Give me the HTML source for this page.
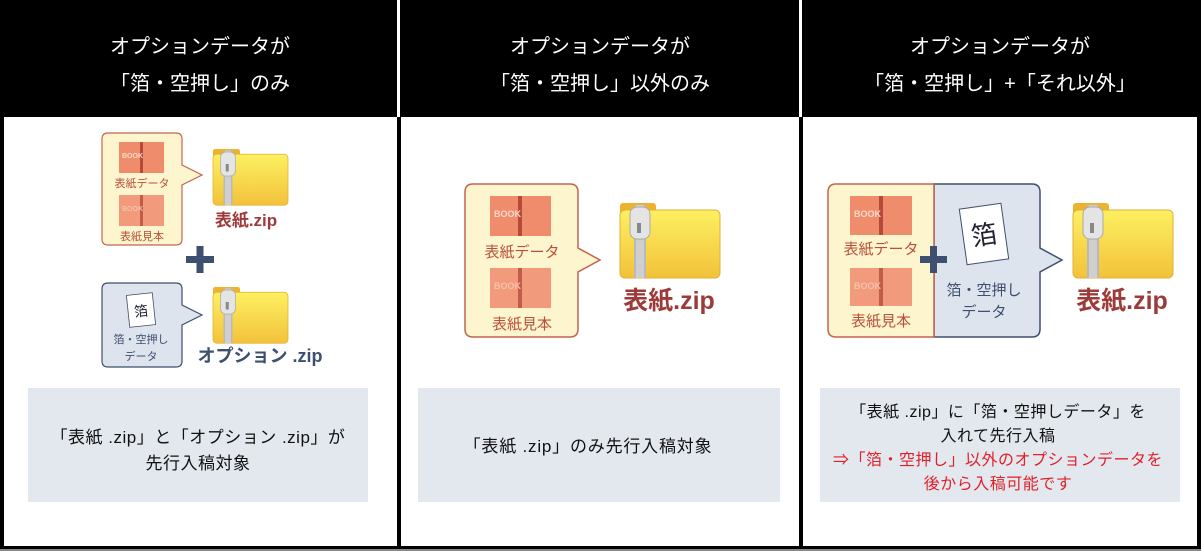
<!DOCTYPE html>
<html><head><meta charset="utf-8"><style>
html,body{margin:0;padding:0;background:#fff}
svg{display:block}
text{font-family:"Liberation Sans","Noto Sans CJK JP",sans-serif}
</style></head><body>
<svg width="1201" height="551" viewBox="0 0 1201 551" xmlns="http://www.w3.org/2000/svg">
<defs>
<linearGradient id="fy" x1="0" y1="0" x2="0" y2="1"><stop offset="0" stop-color="#fdf062"/><stop offset="1" stop-color="#f2c23a"/></linearGradient>
<g id="folder">
<rect x="0" y="0" width="36" height="12" rx="3" fill="#eeb32e"/>
<rect x="0" y="7" width="100" height="68" rx="5" fill="url(#fy)"/>
<rect x="0" y="7" width="100" height="68" rx="5" fill="none" stroke="#e3b030" stroke-width="1"/>
<rect x="14" y="2" width="12" height="73" fill="#b9b9b9"/>
<rect x="16" y="2" width="8" height="73" fill="#cfcfcf"/>
<rect x="10" y="4" width="20" height="32" rx="7" fill="#e4e4e4" stroke="#aaa" stroke-width="1"/>
<rect x="17" y="20" width="4" height="10" fill="#888"/>
</g>
</defs>

<rect x="0" y="0" width="1201" height="549" fill="#000"/>
<rect x="0" y="549" width="1201" height="2" fill="#888"/>
<rect x="397" y="0" width="3" height="117" fill="#fff"/>
<rect x="799" y="0" width="3" height="117" fill="#fff"/>
<rect x="4" y="117" width="393" height="429" fill="#fff"/>
<rect x="401" y="117" width="398" height="429" fill="#fff"/>
<rect x="803" y="117" width="394" height="429" fill="#fff"/>

<g fill="#fff" font-size="20" text-anchor="middle">
<text x="200" y="53">オプションデータが</text>
<text x="200" y="90">「箔・空押し」のみ</text>
<text x="600" y="53">オプションデータが</text>
<text x="600" y="90">「箔・空押し」以外のみ</text>
<text x="1000" y="53">オプションデータが</text>
<text x="1000" y="90">「箔・空押し」+「それ以外」</text>
</g>

<!-- Panel 1 -->
<path d="M108 133 H176 Q182 133 182 139 V165 L202 175 L182 185 V239 Q182 245 176 245 H108 Q102 245 102 239 V139 Q102 133 108 133 Z" fill="#fdf5cd" stroke="#c4644e" stroke-width="1.2"/>
<rect x="119" y="142" width="45" height="31" fill="#ef8c6c"/><rect x="140" y="142" width="3" height="31" fill="#b64a3a"/>
<text x="122" y="158" font-size="7" font-weight="bold" fill="#fbd9c9">BOOK</text>
<text x="142" y="187" font-size="11" fill="#b8503c" text-anchor="middle">表紙データ</text>
<rect x="119" y="195" width="45" height="31" fill="#f29a7c"/><rect x="140" y="195" width="3" height="31" fill="#c15c48"/>
<text x="122" y="211" font-size="7" font-weight="bold" fill="#f7c1aa">BOOK</text>
<text x="142" y="240" font-size="11" fill="#b8503c" text-anchor="middle">表紙見本</text>
<use href="#folder" transform="translate(213,149) scale(0.75)"/>
<text x="246" y="226" font-size="17" font-weight="bold" fill="#9d3b3b" text-anchor="middle">表紙.zip</text>
<rect x="186" y="256" width="28" height="7" fill="#3e4f70"/>
<rect x="196.5" y="246" width="7" height="27" fill="#3e4f70"/>
<path d="M108 283 H176 Q182 283 182 289 V305 L202 315 L182 325 V361 Q182 367 176 367 H108 Q102 367 102 361 V289 Q102 283 108 283 Z" fill="#dde4ed" stroke="#3e4f70" stroke-width="1.2"/>
<g transform="rotate(-6 141 310)"><rect x="128" y="294" width="26" height="32" fill="#fff" stroke="#3e4f70" stroke-width="0.8"/><text x="141" y="316" font-size="14" fill="#223" text-anchor="middle">箔</text></g>
<text x="141" y="343" font-size="11" fill="#3e4f70" text-anchor="middle">箔・空押し</text>
<text x="141" y="360" font-size="11" fill="#3e4f70" text-anchor="middle">データ</text>
<use href="#folder" transform="translate(213,287) scale(0.75)"/>
<text x="260" y="362" font-size="18" font-weight="bold" fill="#3e4f70" text-anchor="middle">オプション .zip</text>
<rect x="28" y="388" width="340" height="114" fill="#e3e8ee"/>
<text x="198" y="443" font-size="17" letter-spacing="0.5" fill="#111" text-anchor="middle">「表紙 .zip」と「オプション .zip」が</text>
<text x="198" y="469" font-size="17" letter-spacing="0.5" fill="#111" text-anchor="middle">先行入稿対象</text>

<!-- Panel 2 -->
<path d="M473 184 H570 Q578 184 578 192 V248 L600 260 L578 272 V329 Q578 337 570 337 H473 Q465 337 465 329 V192 Q465 184 473 184 Z" fill="#fdf5cd" stroke="#c4644e" stroke-width="1.5"/>
<rect x="490" y="196" width="61" height="40" fill="#ef8c6c"/><rect x="518" y="196" width="4" height="40" fill="#b64a3a"/>
<text x="494" y="217" font-size="9" font-weight="bold" fill="#fbd9c9">BOOK</text>
<text x="522" y="257" font-size="15" fill="#b8503c" text-anchor="middle">表紙データ</text>
<rect x="490" y="268" width="61" height="40" fill="#f29a7c"/><rect x="518" y="268" width="4" height="40" fill="#c15c48"/>
<text x="494" y="289" font-size="9" font-weight="bold" fill="#f7c1aa">BOOK</text>
<text x="522" y="329" font-size="15" fill="#b8503c" text-anchor="middle">表紙見本</text>
<use href="#folder" transform="translate(620,203)"/>
<text x="669" y="309" font-size="25" font-weight="bold" fill="#9d3b3b" text-anchor="middle">表紙.zip</text>
<rect x="418" y="388" width="362" height="114" fill="#e3e8ee"/>
<text x="588" y="452" font-size="17" letter-spacing="0.8" fill="#111" text-anchor="middle">「表紙 .zip」のみ先行入稿対象</text>

<!-- Panel 3 -->
<path d="M934 184 H1032 Q1040 184 1040 192 V248 L1062 260 L1040 272 V329 Q1040 337 1032 337 H934 Z" fill="#dde4ed" stroke="#3e4f70" stroke-width="1.5"/>
<path d="M934 184 H836 Q828 184 828 192 V329 Q828 337 836 337 H934 Z" fill="#fdf5cd" stroke="#c4644e" stroke-width="1.5"/>
<rect x="850" y="196" width="62" height="39" fill="#ef8c6c"/><rect x="879" y="196" width="4" height="39" fill="#b64a3a"/>
<text x="854" y="217" font-size="9" font-weight="bold" fill="#fbd9c9">BOOK</text>
<text x="881" y="254" font-size="15" fill="#b8503c" text-anchor="middle">表紙データ</text>
<rect x="850" y="268" width="62" height="38" fill="#f29a7c"/><rect x="879" y="268" width="4" height="38" fill="#c15c48"/>
<text x="854" y="289" font-size="9" font-weight="bold" fill="#f7c1aa">BOOK</text>
<text x="881" y="326" font-size="15" fill="#b8503c" text-anchor="middle">表紙見本</text>
<rect x="920" y="256" width="27" height="7" fill="#3e4f70"/>
<rect x="930" y="246" width="7" height="27" fill="#3e4f70"/>
<g transform="rotate(-8 984 234)"><rect x="963" y="206" width="42" height="56" fill="#fff" stroke="#3e4f70" stroke-width="1"/><text x="984" y="244" font-size="26" fill="#223" text-anchor="middle">箔</text></g>
<text x="984" y="295" font-size="15" fill="#3e4f70" text-anchor="middle">箔・空押し</text>
<text x="984" y="317" font-size="15" fill="#3e4f70" text-anchor="middle">データ</text>
<use href="#folder" transform="translate(1073,203)"/>
<text x="1122" y="309" font-size="25" font-weight="bold" fill="#9d3b3b" text-anchor="middle">表紙.zip</text>
<rect x="820" y="388" width="360" height="114" fill="#e3e8ee"/>
<text x="998" y="417" font-size="16" letter-spacing="0.5" fill="#111" text-anchor="middle">「表紙 .zip」に「箔・空押しデータ」を</text>
<text x="998" y="441" font-size="16" letter-spacing="0.5" fill="#111" text-anchor="middle">入れて先行入稿</text>
<text x="998" y="465" font-size="16" letter-spacing="0.5" fill="#e0202a" text-anchor="middle">⇒「箔・空押し」以外のオプションデータを</text>
<text x="998" y="489" font-size="16" letter-spacing="0.5" fill="#e0202a" text-anchor="middle">後から入稿可能です</text>
</svg>
</body></html>
